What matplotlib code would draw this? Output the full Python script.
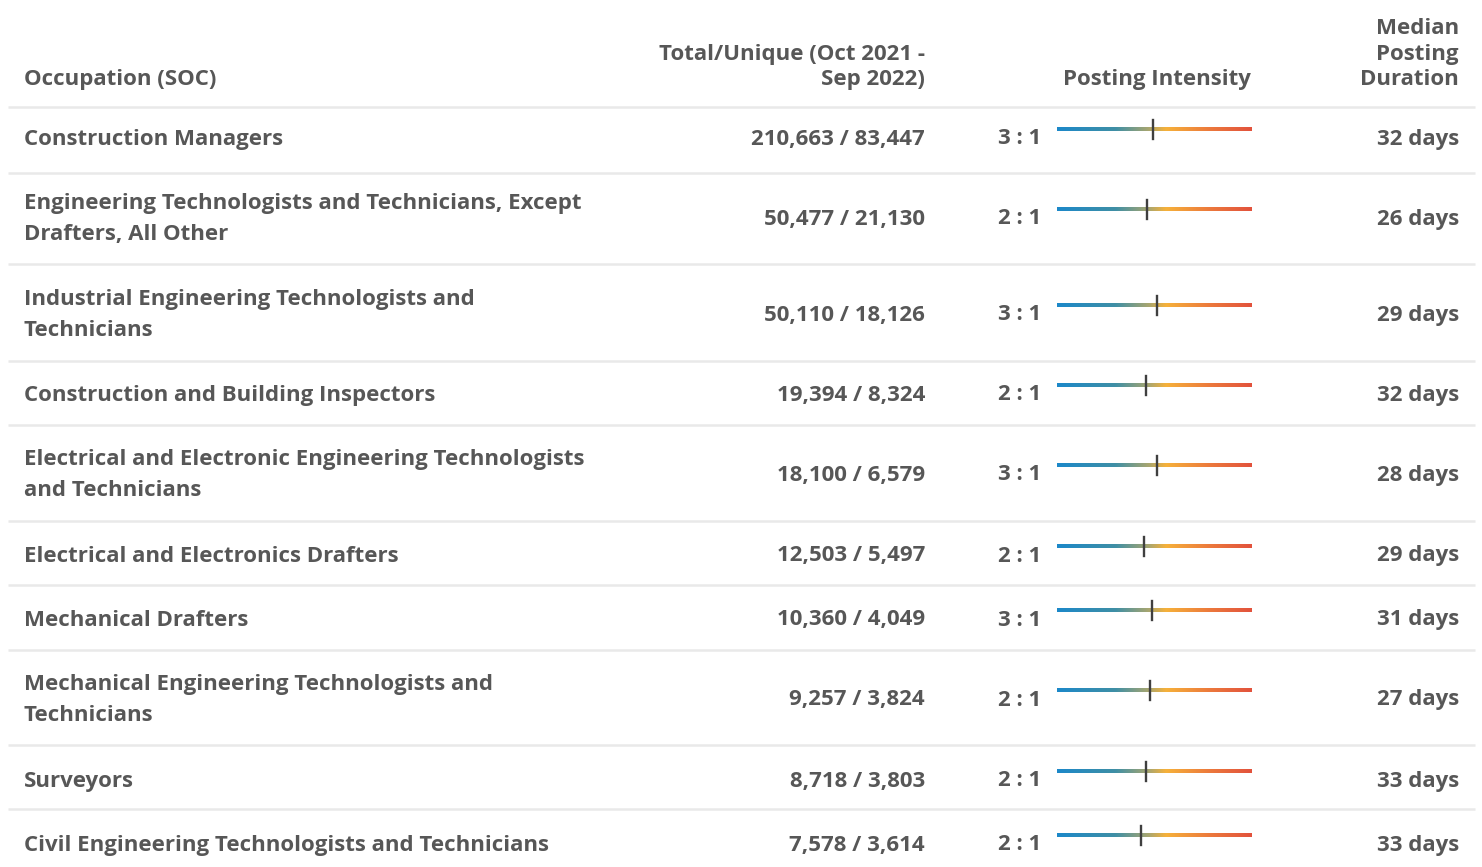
import matplotlib
matplotlib.use("Agg")
import matplotlib.pyplot as plt
from matplotlib.colors import LinearSegmentedColormap
import numpy as np

occupations = [
    "Construction Managers",
    "Engineering Technologists and Technicians, Except\nDrafters, All Other",
    "Industrial Engineering Technologists and\nTechnicians",
    "Construction and Building Inspectors",
    "Electrical and Electronic Engineering Technologists\nand Technicians",
    "Electrical and Electronics Drafters",
    "Mechanical Drafters",
    "Mechanical Engineering Technologists and\nTechnicians",
    "Surveyors",
    "Civil Engineering Technologists and Technicians",
]
total_postings = [210663, 50477, 50110, 19394, 18100, 12503, 10360, 9257, 8718, 7578]
unique_postings = [83447, 21130, 18126, 8324, 6579, 5497, 4049, 3824, 3803, 3614]
intensity_label = ["3 : 1", "2 : 1", "3 : 1", "2 : 1", "3 : 1", "2 : 1", "3 : 1", "2 : 1", "2 : 1", "2 : 1"]
# marker position on the intensity scale (0..6)
intensity_value = [2.95, 2.77, 3.08, 2.74, 3.08, 2.68, 2.92, 2.86, 2.74, 2.59]
median_days = [32, 26, 29, 32, 28, 29, 31, 27, 33, 33]

headers = ["Occupation (SOC)", "Total/Unique (Oct 2021 -\nSep 2022)",
           "Posting Intensity", "Median\nPosting\nDuration"]

# layout in pixels: separator lines and row text centres
sep_lines = [107, 173, 264, 361, 425, 521, 585, 650, 745, 809]
row_centres = [137, 217, 313, 393, 473, 554, 618, 698, 779, 843]

W, H = 1482, 867
TXT = "#575757"
FONT = "Open Sans"
FS = 16

fig = plt.figure(figsize=(W / 100, H / 100), dpi=100)
ax = fig.add_axes([0, 0, 1, 1])
ax.set_xlim(0, W)
ax.set_ylim(H, 0)
ax.axis("off")

cmap = LinearSegmentedColormap.from_list(
    "intensity", [(0.0, "#1c88c9"), (0.3, "#3f8fa5"), (0.47, "#a8a670"),
                  (0.56, "#f6b13a"), (0.78, "#ec7a3c"), (1.0, "#e2523c")])

# header
kw = dict(color=TXT, fontsize=FS, fontfamily=FONT, fontweight="bold")
ax.text(24, 85, headers[0], ha="left", va="baseline", **kw)
ax.text(925, 85, headers[1], ha="right", va="baseline", linespacing=1.28, **kw)
ax.text(1157, 85, headers[2], ha="center", va="baseline", **kw)
ax.text(1459, 85, headers[3], ha="right", va="baseline", linespacing=1.28, **kw)

for y in sep_lines:
    ax.plot([8, 1475], [y, y], color="#e9e9e9", lw=1.8, solid_capstyle="butt")

bar_x0, bar_x1 = 1057, 1252
scale_min, scale_max = 0, 6
grad = np.linspace(0, 1, 256).reshape(1, -1)

dy = 2  # text sits slightly lower than the row centre
for i, name in enumerate(occupations):
    yc = row_centres[i]
    ax.text(24, yc + dy, name, ha="left", va="center", linespacing=1.62, **kw)
    ax.text(925, yc + dy, f"{total_postings[i]:,} / {unique_postings[i]:,}",
            ha="right", va="center", **kw)
    ax.text(1041, yc + dy, intensity_label[i], ha="right", va="center", **kw)
    ax.imshow(grad, cmap=cmap, aspect="auto",
              extent=[bar_x0, bar_x1, yc - 6, yc - 9.5], zorder=2)
    mx = bar_x0 + (intensity_value[i] - scale_min) / (scale_max - scale_min) * (bar_x1 - bar_x0)
    ax.plot([mx, mx], [yc - 17, yc + 1.5], color="#3f3f3f", lw=1.7, zorder=3)
    ax.text(1459, yc + dy, f"{median_days[i]} days", ha="right", va="center", **kw)

ax.set_xlim(0, W)
ax.set_ylim(H, 0)
fig.savefig("out.png", dpi=100)
